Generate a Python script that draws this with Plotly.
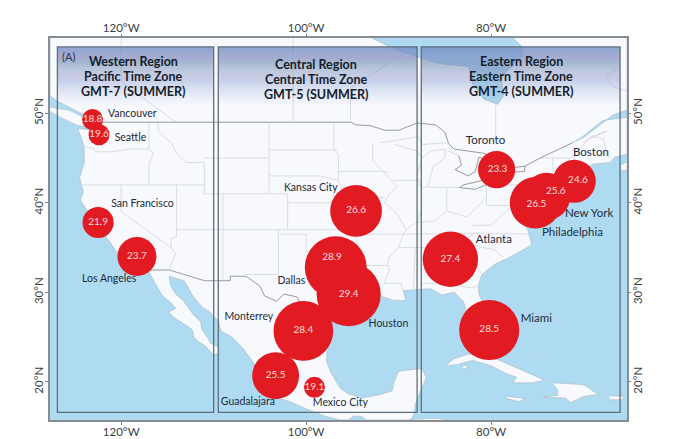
import numpy as np
import plotly.graph_objects as go

# city circles, values in the middle of each circle
cities = ['Vancouver', 'Seattle', 'San Francisco', 'Los Angeles', 'Kansas City', 'Dallas', 'Houston', 'Monterrey',
          'Guadalajara', 'Mexico City', 'Toronto', 'Boston', 'New York', 'Philadelphia', 'Atlanta', 'Miami']
values = [18.8, 19.6, 21.9, 23.7, 26.6, 28.9, 29.4, 28.4, 25.5, 19.1, 23.3, 24.6, 25.6, 26.5, 27.4, 28.5]
city_lon = [-123.1, -122.4, -122.5, -118.3, -94.6, -96.8, -95.4, -100.3, -103.3, -99.1, -79.4, -71.0, -74.0, -75.2, -84.4, -80.2]
city_lat = [49.3, 47.6, 37.8, 34.0, 39.1, 32.8, 29.8, 25.7, 20.7, 19.4, 43.7, 42.4, 40.7, 40.0, 33.7, 25.8]

# where the number sits, a few are pushed off the centre
value_lon = [-123.1, -122.4, -122.5, -118.3, -94.6, -97.2, -95.4, -100.3, -103.3, -99.1, -79.3, -70.6, -73.0, -75.1, -84.4, -80.2]
value_lat = [49.3, 47.6, 37.8, 34.0, 39.1, 33.9, 29.8, 25.7, 20.7, 19.4, 43.7, 42.5, 41.3, 39.8, 33.7, 25.8]

# city name labels
name_lon = [-118.8, -119.0, -117.7, -121.3, -99.5, -101.6, -91.1, -106.2, -106.3, -96.3, -80.6, -69.2, -69.4, -71.2, -79.7, -75.1]
name_lat = [49.9, 47.2, 39.8, 31.4, 41.6, 31.2, 26.4, 27.2, 17.75, 17.65, 46.9, 45.5, 38.7, 36.6, 35.8, 27.0]

x_ticks = [-120, -100, -80]
x_tick_labels = ['120°W', '100°W', '80°W']
y_ticks = [20, 30, 40, 50]
y_tick_labels = ['20°N', '30°N', '40°N', '50°N']

region_names = ['Western Region', 'Central Region', 'Eastern Region']
time_zones = ['Pacific Time Zone', 'Central Time Zone', 'Eastern Time Zone']
gmt_offsets = ['GMT-7 (SUMMER)', 'GMT-5 (SUMMER)', 'GMT-4 (SUMMER)']
title_lon = [-118.7, -98.9, -76.75]
title_lat = [55.82, 55.49, 55.82]
panel_lon = [(-126.9, -110.0), (-109.5, -88.0), (-87.55, -66.05)]
panel_lat = (16.6, 57.4)

LON_RANGE = [-127.7, -65.3]
LAT_RANGE = [15.75, 58.4]

# coastline, clockwise from the top left corner
land = [(-127.7, 58.4), (-127.7, 52.0), (-127.0, 51.4), (-125.5, 50.6), (-124.5, 50.0), (-123.2, 49.4), (-122.8, 49.0),
        (-122.5, 48.4), (-122.4, 47.4), (-122.9, 47.2), (-122.9, 48.1), (-124.7, 48.3), (-124.2, 46.9), (-124.0, 46.2),
        (-124.0, 44.5), (-124.5, 42.8), (-124.1, 41.2), (-124.4, 40.3), (-123.8, 39.3), (-123.0, 38.3), (-122.5, 37.7),
        (-122.0, 36.9), (-121.9, 36.5), (-121.2, 35.6), (-120.6, 34.6), (-119.2, 34.1), (-118.4, 33.8), (-117.3, 33.0),
        (-117.1, 32.5), (-116.6, 31.5), (-116.0, 30.4), (-115.6, 29.7), (-114.6, 28.8), (-114.1, 28.2), (-114.9, 27.8),
        (-114.3, 27.2), (-113.1, 26.4), (-112.3, 25.8), (-112.1, 24.8), (-111.0, 24.1), (-110.0, 23.0), (-109.5, 23.2),
        (-109.5, 23.9), (-110.3, 24.3), (-110.7, 25.0), (-111.3, 25.9), (-111.4, 26.7), (-112.2, 27.5), (-112.8, 28.4),
        (-113.3, 29.1), (-114.2, 29.9), (-114.7, 30.9), (-114.8, 31.8), (-113.2, 31.3), (-112.9, 30.8), (-112.2, 29.5),
        (-111.2, 28.3), (-110.5, 27.9), (-109.5, 26.8), (-109.2, 25.7), (-108.0, 25.0), (-106.8, 23.7), (-105.6, 22.0),
        (-105.3, 20.8), (-105.6, 20.4), (-104.7, 19.2), (-103.5, 18.3), (-102.0, 17.9), (-100.0, 17.0), (-98.0, 16.2),
        (-96.3, 15.75), (-95.4, 15.75), (-94.9, 16.2), (-94.0, 16.15), (-93.5, 15.75), (-88.9, 15.75), (-88.6, 15.9),
        (-88.3, 16.5), (-88.2, 17.5), (-87.6, 19.0), (-87.0, 20.5), (-87.5, 21.5), (-90.0, 21.2), (-90.5, 20.0),
        (-90.7, 19.0), (-92.0, 18.6), (-94.0, 18.2), (-95.5, 18.7), (-96.3, 19.3), (-97.3, 21.0), (-97.8, 22.3),
        (-97.7, 24.0), (-97.2, 26.0), (-97.3, 27.5), (-96.0, 28.5), (-94.8, 29.3), (-93.8, 29.7), (-92.0, 29.6),
        (-90.5, 29.1), (-89.2, 29.1), (-89.5, 30.2), (-88.0, 30.3), (-86.5, 30.4), (-85.3, 29.7), (-84.0, 30.0),
        (-83.0, 29.0), (-82.7, 28.0), (-82.7, 27.5), (-81.8, 26.0), (-81.0, 25.2), (-80.4, 25.2), (-80.0, 26.8),
        (-80.6, 28.4), (-81.3, 29.8), (-81.4, 30.7), (-81.0, 32.0), (-79.5, 33.2), (-78.0, 33.9), (-76.6, 34.7),
        (-75.6, 35.3), (-76.0, 36.9), (-76.3, 37.5), (-76.4, 39.0), (-76.0, 38.0), (-75.6, 37.6), (-75.1, 38.5),
        (-75.5, 39.5), (-74.2, 39.6), (-74.0, 40.5), (-72.0, 41.0), (-72.9, 41.2), (-71.4, 41.4), (-70.6, 41.6),
        (-70.0, 41.7), (-70.7, 42.3), (-70.8, 42.9), (-70.2, 43.7), (-69.0, 44.3), (-67.1, 44.5), (-66.6, 45.1),
        (-65.3, 45.4), (-65.3, 58.4)]

# honduras coast just touches the bottom of the frame
honduras = [(-88.9, 15.75), (-88.0, 15.85), (-86.0, 15.95), (-84.5, 15.75)]
vancouver_island = [(-127.7, 50.7), (-125.5, 50.3), (-124.0, 49.5), (-123.4, 48.5), (-124.7, 48.6), (-126.5, 49.5), (-127.7, 50.2)]
baja_islands = [(-112.2, 25.1), (-112.0, 24.6), (-111.8, 24.9)]
nova_scotia = [(-66.0, 44.2), (-65.3, 44.6), (-65.3, 43.6), (-65.9, 43.6)]
cuba = [(-84.9, 21.9), (-84.0, 22.6), (-82.5, 23.1), (-81.0, 23.1), (-79.5, 22.6), (-77.5, 21.7), (-75.5, 20.8), (-74.2, 20.2),
        (-75.5, 19.9), (-77.7, 19.9), (-77.2, 20.5), (-78.5, 21.0), (-80.0, 21.8), (-82.0, 22.4), (-83.5, 22.0)]
isla_juventud = [(-83.1, 21.8), (-82.6, 21.9), (-82.6, 21.5), (-83.0, 21.5)]
hispaniola = [(-73.3, 19.9), (-71.7, 19.8), (-70.0, 19.7), (-68.4, 18.6), (-69.9, 18.4), (-71.4, 17.7), (-72.0, 18.2),
              (-74.4, 18.3), (-72.8, 18.5), (-72.8, 19.2)]
jamaica = [(-78.3, 18.4), (-76.3, 18.15), (-77.0, 17.8), (-78.3, 18.15)]
puerto_rico = [(-67.2, 18.45), (-65.6, 18.4), (-65.8, 18.0), (-67.2, 18.0)]
islands = [honduras, vancouver_island, baja_islands, nova_scotia, cuba, isla_juventud, hispaniola, jamaica, puerto_rico]

# inland water, drawn over the land
hudson_bay = [(-92.9, 58.4), (-90.5, 57.2), (-87.7, 56.2), (-85.3, 55.5), (-82.4, 55.2), (-82.0, 53.3), (-80.8, 51.6),
              (-79.3, 51.0), (-78.6, 52.0), (-79.0, 54.0), (-76.5, 56.5), (-76.8, 57.6), (-77.6, 58.4)]
st_lawrence = [(-71.1, 46.75), (-70.0, 47.3), (-66.8, 49.8), (-65.3, 50.35), (-65.3, 49.55), (-67.9, 49.2), (-69.5, 47.9)]
water = [hudson_bay, st_lawrence]

# canada / us / mexico borders and the lake superior shore
national = [
    [(-123.0, 49.0), (-95.2, 49.0), (-94.6, 48.7), (-93.0, 48.6), (-91.5, 48.1), (-90.0, 48.1), (-89.0, 48.5), (-88.0, 48.9),
     (-86.0, 48.7), (-85.0, 47.9), (-84.6, 46.6), (-84.0, 46.0)],
    [(-117.1, 32.5), (-114.8, 32.5), (-111.0, 31.3), (-108.2, 31.3), (-108.2, 31.8), (-106.5, 31.8), (-105.0, 30.7),
     (-104.5, 29.6), (-103.2, 29.0), (-102.4, 29.8), (-101.0, 29.5), (-100.3, 28.3), (-99.5, 27.5), (-99.1, 26.4), (-97.2, 25.9)],
    [(-83.5, 45.3), (-83.2, 44.2), (-83.9, 43.7), (-82.5, 43.0), (-81.7, 43.5), (-81.3, 45.1), (-80.0, 44.5), (-80.6, 45.5), (-84.0, 46.0)],
    [(-79.8, 43.3), (-76.4, 43.5), (-76.3, 44.1), (-79.3, 43.7), (-79.8, 43.3)],
    [(-76.3, 44.1), (-74.7, 45.0), (-71.1, 46.75)],
    [(-83.4, 41.7), (-81.7, 41.5), (-79.0, 42.7), (-80.5, 42.6), (-83.0, 42.0), (-83.4, 41.7)],
]

# state and province lines
states = [
    [(-124.0, 46.2), (-123.0, 46.1), (-122.8, 45.7), (-121.0, 45.7), (-119.0, 46.0), (-116.9, 46.0)],
    [(-117.0, 49.0), (-117.0, 46.0), (-116.5, 45.5), (-117.0, 44.3), (-117.0, 42.0)],
    [(-124.2, 42.0), (-111.0, 42.0)],
    [(-120.0, 42.0), (-120.0, 39.0), (-114.6, 35.0), (-114.1, 34.3), (-114.7, 33.0), (-114.8, 32.5)],
    [(-114.0, 42.0), (-114.0, 36.2), (-114.6, 36.0), (-114.6, 35.0)],
    [(-114.0, 37.0), (-94.6, 37.0)],
    [(-109.0, 41.0), (-109.0, 31.3)],
    [(-111.0, 44.5), (-111.0, 41.0), (-102.0, 41.0)],
    [(-111.0, 45.0), (-104.0, 45.0)],
    [(-104.0, 49.0), (-104.0, 41.0)],
    [(-116.0, 49.0), (-116.0, 48.0), (-114.5, 46.6), (-114.0, 45.5), (-113.0, 44.5), (-111.0, 44.5)],
    [(-104.0, 45.9), (-96.6, 45.9)],
    [(-104.0, 43.0), (-98.5, 43.0), (-96.5, 42.5), (-95.8, 40.6), (-95.3, 40.0), (-94.6, 39.0), (-94.6, 36.5)],
    [(-102.0, 41.0), (-102.0, 37.0)],
    [(-102.0, 40.0), (-95.3, 40.0)],
    [(-103.0, 37.0), (-103.0, 32.0), (-106.6, 32.0)],
    [(-103.0, 36.5), (-100.0, 36.5), (-100.0, 34.6), (-98.0, 34.0), (-96.0, 33.8), (-94.4, 33.6)],
    [(-94.6, 36.5), (-94.4, 33.6), (-94.0, 33.0), (-94.0, 31.9), (-93.5, 31.0), (-93.8, 29.7)],
    [(-94.0, 33.0), (-91.2, 33.0)],
    [(-94.6, 36.5), (-89.5, 36.5), (-81.7, 36.6), (-75.9, 36.5)],
    [(-91.6, 31.0), (-89.7, 31.0), (-89.6, 30.2)],
    [(-92.8, 46.0), (-92.8, 44.7), (-91.2, 43.0), (-90.2, 41.8), (-91.0, 41.0), (-91.5, 40.0), (-90.2, 38.8), (-89.2, 37.0),
     (-89.5, 36.5), (-90.0, 35.0), (-91.0, 34.0), (-91.2, 33.0), (-91.0, 32.5), (-91.6, 31.0)],
    [(-95.8, 40.6), (-91.5, 40.6)],
    [(-96.5, 43.5), (-91.2, 43.5)],
    [(-96.5, 42.5), (-96.5, 45.3), (-97.0, 46.0), (-97.0, 49.0)],
    [(-92.8, 46.7), (-92.8, 46.0)],
    [(-92.0, 46.7), (-90.8, 46.9), (-88.5, 47.2), (-87.8, 47.4), (-87.5, 46.5), (-85.0, 46.7), (-84.6, 46.5)],
    [(-90.4, 46.5), (-88.0, 45.8), (-87.6, 45.1)],
    [(-87.6, 41.7), (-88.0, 43.0), (-87.5, 45.0), (-86.5, 45.8), (-85.0, 46.0), (-85.0, 45.0), (-86.3, 44.0), (-86.5, 43.0),
     (-86.8, 41.8), (-87.6, 41.7)],
    [(-84.7, 45.8), (-83.5, 45.3)],
    [(-90.6, 42.5), (-87.8, 42.5)],
    [(-89.2, 37.0), (-88.0, 37.8), (-86.0, 38.0), (-84.8, 39.1), (-82.6, 38.4), (-81.7, 39.3), (-80.5, 40.6)],
    [(-87.5, 41.7), (-87.5, 39.3), (-88.0, 37.8)],
    [(-84.8, 41.7), (-84.8, 39.1)],
    [(-86.8, 41.75), (-83.4, 41.7)],
    [(-80.5, 42.0), (-80.5, 39.7), (-75.8, 39.7)],
    [(-79.8, 42.0), (-75.4, 42.0), (-74.7, 41.4), (-75.1, 40.0)],
    [(-90.0, 35.0), (-84.3, 35.0), (-81.7, 36.6)],
    [(-88.2, 35.0), (-88.4, 30.3)],
    [(-85.6, 35.0), (-85.0, 32.3), (-85.0, 31.0), (-84.9, 30.7)],
    [(-87.6, 31.0), (-85.0, 31.0), (-82.2, 30.5), (-81.5, 30.7)],
    [(-83.1, 35.0), (-81.0, 32.1)],
    [(-83.1, 35.0), (-82.0, 35.2), (-79.7, 34.8), (-78.6, 33.9)],
    [(-82.0, 37.5), (-80.0, 37.5), (-78.0, 39.4)],
    [(-73.3, 45.0), (-73.3, 42.7)],
    [(-71.5, 45.0), (-72.5, 42.7)],
    [(-73.3, 42.7), (-71.0, 42.7)],
    [(-73.5, 42.0), (-71.8, 42.0), (-71.8, 41.4)],
    [(-71.0, 45.3), (-70.7, 43.0)],
    [(-74.7, 45.0), (-71.5, 45.0), (-70.3, 46.2), (-69.2, 47.4), (-68.3, 47.3), (-67.8, 47.0), (-67.5, 45.3), (-67.1, 44.9)],
    [(-120.0, 58.4), (-120.0, 53.5), (-114.1, 49.0)],
    [(-101.4, 58.4), (-101.4, 49.0)],
    [(-95.2, 49.0), (-95.2, 52.8), (-89.0, 57.0)],
    [(-79.5, 51.0), (-79.5, 47.0)],
    [(-70.0, 46.8), (-67.5, 48.0), (-69.2, 47.4)],
    [(-66.5, 55.0), (-67.5, 54.0), (-66.9, 53.0), (-65.3, 52.5)],
    [(-78.5, 26.7), (-77.0, 26.5)], [(-78.0, 25.0), (-77.5, 24.2)], [(-75.9, 23.6), (-75.2, 23.1)], [(-74.2, 22.7), (-73.8, 22.4)],
]


def flatten(shapes):
    # join coordinate lists into one trace, None lifts the pen
    lon, lat = [], []
    for shape in shapes:
        lon += [p[0] for p in shape] + [None]
        lat += [p[1] for p in shape] + [None]
    return lon, lat


fig = go.Figure()

lon, lat = flatten([land] + islands)
fig.add_trace(go.Scatter(x=lon, y=lat, mode='lines', fill='toself', fillcolor='#f8f9fd',
                         line=dict(color='#a9b6c0', width=0.6)))
lon, lat = flatten(water)
fig.add_trace(go.Scatter(x=lon, y=lat, mode='lines', fill='toself', fillcolor='#aedbf1',
                         line=dict(color='#9fb4c2', width=0.6)))
lon, lat = flatten(states)
fig.add_trace(go.Scatter(x=lon, y=lat, mode='lines', line=dict(color='#d2d6dc', width=0.8)))
lon, lat = flatten(national)
fig.add_trace(go.Scatter(x=lon, y=lat, mode='lines', line=dict(color='#8b9096', width=0.9)))

sizes = 21 + 4.4 * (np.clip(values, 19.6, None) - 19.6)
fig.add_trace(go.Scatter(x=city_lon, y=city_lat, mode='markers',
                         marker=dict(size=sizes, sizemode='diameter', color='#e21b23', opacity=1, line=dict(width=0))))
fig.add_trace(go.Scatter(x=value_lon, y=value_lat, mode='text', text=[f'{v:.1f}' for v in values],
                         textposition='middle center', textfont=dict(family='Lato', size=10, color='#fbdcdc')))
# eastern names are set a little larger in the original
name_sizes = [10.5] * 10 + [11.5] * 6
fig.add_trace(go.Scatter(x=name_lon, y=name_lat, mode='text', text=cities,
                         textposition='middle center', textfont=dict(family='Lato', size=name_sizes, color='#1e2b3a')))

# dummy trace so the top and right axes get drawn
fig.add_trace(go.Scatter(x=LON_RANGE, y=LAT_RANGE, xaxis='x2', yaxis='y2', mode='markers',
                         marker=dict(opacity=0), hoverinfo='skip'))

# blue fade at the top of each region panel, overlapping rects pile up to a straight ramp
steps = np.linspace(panel_lat[1], 50.9, 40)[1:]
ramp = 0.8 * np.arange(len(steps) + 1) / len(steps)
step_alpha = 1 - (1 - ramp[1:]) / (1 - ramp[:-1])
for x0, x1 in panel_lon:
    for lat0, a in zip(steps, step_alpha[::-1]):
        fig.add_shape(type='rect', x0=x0, x1=x1, y0=lat0, y1=panel_lat[1], layer='above', line_width=0,
                      fillcolor=f'rgba(130,153,205,{a:.4f})')
    fig.add_shape(type='rect', x0=x0, x1=x1, y0=panel_lat[0], y1=panel_lat[1], layer='above',
                  line=dict(color='#5d6e7c', width=1.3))

for i in range(3):
    for j, line in enumerate([region_names[i], time_zones[i], gmt_offsets[i]]):
        fig.add_annotation(x=title_lon[i], y=title_lat[i] - j * 1.68, text=f'<b>{line}</b>', showarrow=False,
                           font=dict(family='Lato', size=12.5, color='#141e2c'))
fig.add_annotation(x=-125.75, y=56.3, text='(A)', showarrow=False, font=dict(family='Lato', size=11, color='#2a3442'))

tick_font = dict(family='Lato', size=11.5, color='#3a3f44')
x_axis = dict(range=LON_RANGE, tickvals=x_ticks, ticktext=x_tick_labels, ticks='outside', ticklen=3, tickcolor='#7d8388',
              tickfont=tick_font, showgrid=False, zeroline=False, fixedrange=True, automargin=False, ticklabelstandoff=-3)
y_axis = dict(range=LAT_RANGE, tickvals=y_ticks, ticktext=y_tick_labels, ticks='outside', ticklen=3, tickcolor='#7d8388',
              tickfont=tick_font, tickangle=-90, showgrid=False, zeroline=False, fixedrange=True, automargin=False,
              ticklabelstandoff=-3)

fig.update_layout(
    width=680, height=439,
    margin=dict(l=50, r=53, t=38, b=19),
    paper_bgcolor='white', plot_bgcolor='#aedbf1',
    showlegend=False, hovermode=False,
    xaxis=dict(x_axis, showline=True, mirror=True, linecolor='#868d94', linewidth=2),
    yaxis=dict(y_axis, showline=True, mirror=True, linecolor='#868d94', linewidth=2),
    xaxis2=dict(x_axis, overlaying='x', side='top', anchor='y2'),
    yaxis2=dict(y_axis, overlaying='y', side='right', anchor='x2'),
)

# page margin would push the figure 8px off
fig.write_html("out.html", post_script="document.body.style.margin='0';", config={'displayModeBar': False})
